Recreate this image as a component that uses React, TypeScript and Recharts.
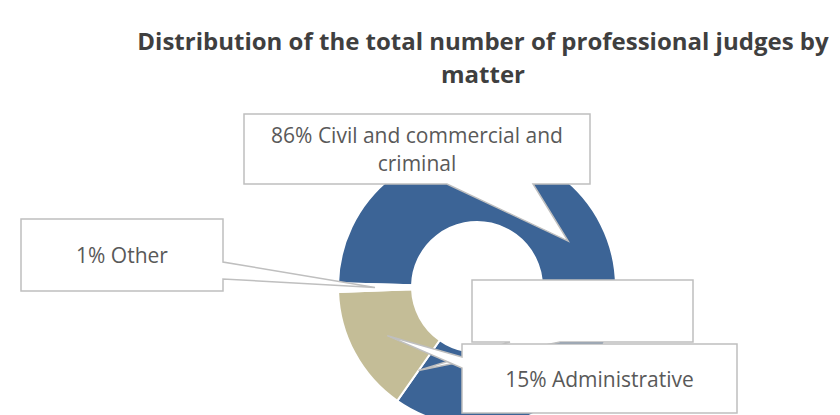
import React from "react";
import { PieChart, Pie, Cell } from "recharts";

// categories (Excel order, clockwise), with one empty label slot
const categories = ["Civil and commercial and criminal", "", "Administrative", "Other"];
const shares = [86, 0, 15, 1];
const percentLabels = ["86%", "", "15%", "1%"];
// how each callout text is broken into lines
const labelLines = [
  ["86% Civil and commercial and", "criminal"],
  [],
  ["15% Administrative"],
  ["1% Other"],
];
const sliceColors = ["#3C6496", "#3C6496", "#C4BD97", "#FFFFFF"];

const titleLines = [
  "Distribution of the total number of professional judges by",
  "matter",
];

const RAD = Math.PI / 180;

// callout box layout
type Box = { x: number; y: number; w: number; h: number; edge: "bottom" | "left" | "right"; a: number; b: number };
const boxes: Box[] = [
  { x: 244, y: 114, w: 346, h: 70, edge: "bottom", a: 447, b: 533 },
  { x: 472, y: 280, w: 221, h: 62, edge: "bottom", a: 510, b: 560 },
  { x: 462, y: 344, w: 275, h: 69, edge: "left", a: 357, b: 368 },
  { x: 21, y: 219, w: 202, h: 72, edge: "right", a: 262, b: 279 },
];

const data = categories.map((name, i) => ({ name, value: shares[i], pct: percentLabels[i] }));

function calloutPath(bx: Box, tx: number, ty: number) {
  const x0 = bx.x, y0 = bx.y, x1 = bx.x + bx.w, y1 = bx.y + bx.h;
  const pts: number[][] = [[x0, y0], [x1, y0]];
  if (bx.edge === "right") pts.push([x1, bx.a], [tx, ty], [x1, bx.b]);
  pts.push([x1, y1]);
  if (bx.edge === "bottom") pts.push([bx.b, y1], [tx, ty], [bx.a, y1]);
  pts.push([x0, y1]);
  if (bx.edge === "left") pts.push([x0, bx.b], [tx, ty], [x0, bx.a]);
  return "M" + pts.map((p) => p.join(",")).join("L") + "Z";
}

const renderCallout = (props: any) => {
  const { cx, cy, midAngle, innerRadius, outerRadius, index } = props;
  const bx = boxes[index];
  if (!bx) return null;
  const r = (innerRadius + outerRadius) / 2;
  const tx = cx + r * Math.cos(-midAngle * RAD);
  const ty = cy + r * Math.sin(-midAngle * RAD);
  const lines = labelLines[index];
  const midX = bx.x + bx.w / 2;
  const lineH = 28;
  const firstBase = bx.y + bx.h / 2 + 8 - ((lines.length - 1) * lineH) / 2;
  return (
    <g key={`callout-${index}`}>
      <path d={calloutPath(bx, tx, ty)} fill="#FFFFFF" stroke="#BFBFBF" strokeWidth={1.5} />
      {lines.map((ln, j) => (
        <text
          key={j}
          x={midX}
          y={firstBase + j * lineH}
          textAnchor="middle"
          fill="#595959"
          fontFamily="'Open Sans', sans-serif"
          fontSize={21}
        >
          {ln}
        </text>
      ))}
    </g>
  );
};

export default function App() {
  return (
    <div style={{ position: "absolute", left: 0, top: 0, width: 840, height: 415, background: "#fff", overflow: "hidden" }}>
      <PieChart width={840} height={415} margin={{ top: 0, right: 0, bottom: 0, left: 0 }}>
        <Pie
          data={data}
          dataKey="value"
          nameKey="name"
          cx={477}
          cy={287}
          innerRadius={65}
          outerRadius={139}
          startAngle={-181.5}
          endAngle={-541.5}
          stroke="#FFFFFF"
          strokeWidth={2}
          label={renderCallout}
          labelLine={false}
          isAnimationActive={false}
        >
          {data.map((d, i) => (
            <Cell key={d.name + i} fill={sliceColors[i]} />
          ))}
        </Pie>
      </PieChart>
      <div
        style={{
          position: "absolute",
          left: 103,
          width: 760,
          top: 24,
          textAlign: "center",
          fontFamily: "'Open Sans', sans-serif",
          fontWeight: 700,
          fontSize: 24,
          lineHeight: "33px",
          color: "#3F3F3F",
        }}
      >
        {titleLines.map((t) => (
          <div key={t} style={{ whiteSpace: "nowrap" }}>{t}</div>
        ))}
      </div>
    </div>
  );
}
